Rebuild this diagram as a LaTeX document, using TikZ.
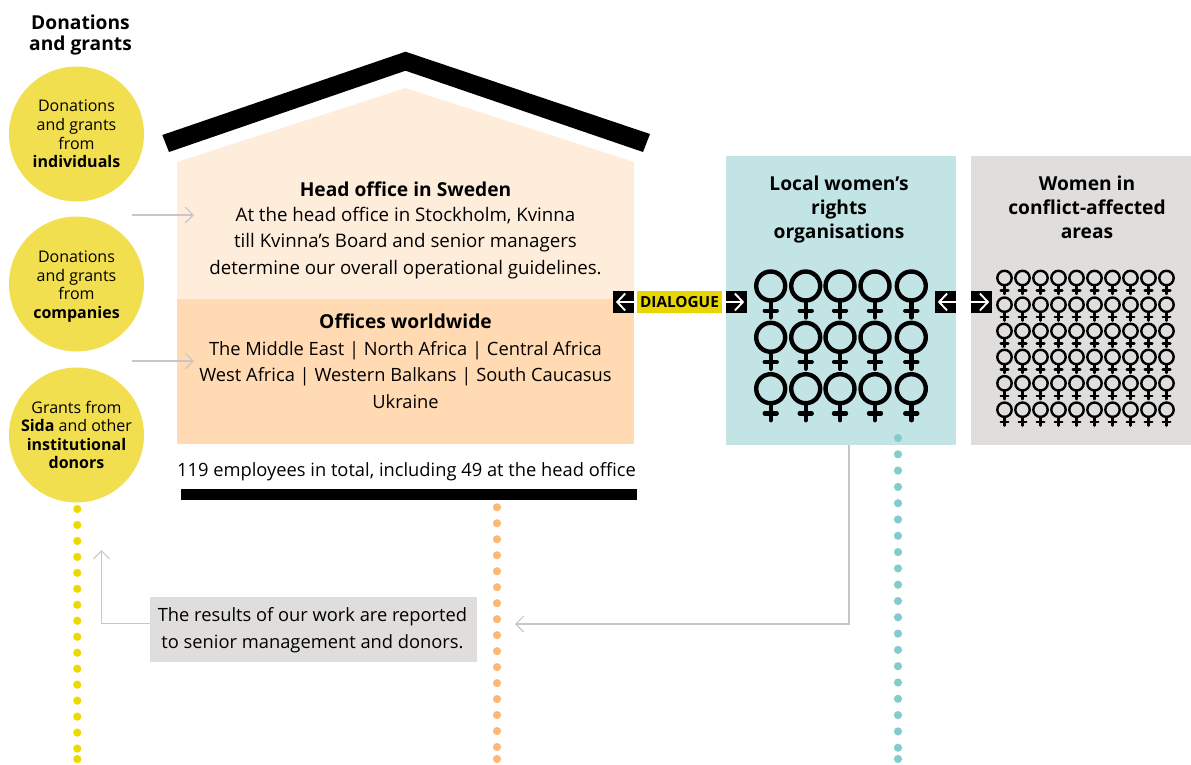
\documentclass[tikz,border=0pt]{standalone}
\usepackage{fontspec}
\setmainfont{Open Sans}
\usetikzlibrary{arrows.meta,positioning,calc}
\definecolor{ylw}{HTML}{F2DF4F}
\definecolor{dotY}{HTML}{EDD900}
\definecolor{dotO}{HTML}{FDB777}
\definecolor{dotT}{HTML}{84CBCD}
\definecolor{peachL}{HTML}{FFEDDC}
\definecolor{peachD}{HTML}{FFDAB3}
\definecolor{teal}{HTML}{C2E4E5}
\definecolor{greyb}{HTML}{DFDEDC}
\definecolor{linegrey}{HTML}{C8C6C6}
\definecolor{dlg}{HTML}{E8D600}
\tikzset{
 x=1pt,y=-1pt,
 donor/.style={circle,fill=ylw,minimum size=135pt,inner sep=0pt,align=center,font=\fontsize{16}{18.6}\selectfont},
 bodytxt/.style={align=center,font=\fontsize{18.7}{26.7}\selectfont,inner sep=0pt},
 bodysmall/.style={align=center,font=\fontsize{18.3}{26.7}\selectfont,inner sep=0pt},
 headtxt/.style={align=center,font=\fontsize{19.2}{24}\selectfont\bfseries,inner sep=0pt},
 thin arrow/.style={draw=linegrey,line width=1.2pt,-{Straight Barb[length=8pt,width=16pt,line width=1.2pt]}},
 dotted line/.style={line width=8.2pt,line cap=round,dash pattern=on 0pt off #1},
 arrowbox/.style={fill=black,minimum width=21pt,minimum height=21.4pt,inner sep=0pt},
 white arrow/.style={draw=white,line width=1.9pt,shorten >=3pt,-{Straight Barb[length=8pt,width=17pt,line width=1.9pt]}},
 pics/venus/.style n args={4}{code={
  \draw[line width=#2pt] (0,0) circle[radius=#1];
  \draw[line width=#2pt,line cap=round] (0,#1) -- (0,#1+#3) (-#4,#1+#3*0.6) -- (#4,#1+#3*0.6);
 }},
}
\begin{document}
\begin{tikzpicture}
\useasboundingbox (0,0) rectangle (1191,764);
% dotted lines
\coordinate (dy1) at (77.3,509); \coordinate (dy2) at (77.3,759);
\coordinate (do1) at (497,507.3); \coordinate (do2) at (497,759);
\coordinate (dt1) at (898,438); \coordinate (dt2) at (898,759);
% boxes
\fill[peachL] (177,299) -- (177,162) -- (405.5,88) -- (634,162) -- (634,299) -- cycle;
\fill[peachD] (177,299) rectangle (634,444);
\node[fill=teal,minimum width=230pt,minimum height=289pt,inner sep=0pt,anchor=north west] (teal) at (726,156) {};
\node[fill=greyb,minimum width=220pt,minimum height=289pt,inner sep=0pt,anchor=north west] (grey) at (971,156) {};
\draw[dotted line=15.97pt,dotY] (dy1) -- (dy2); \fill[dotY] (dy2) circle[radius=4.1];
\draw[dotted line=15.98pt,dotO] (do1) -- (do2); \fill[dotO] (do2) circle[radius=4.1];
\draw[dotted line=16.3pt,dotT] (dt1) -- (dt2); \fill[dotT] (dt2) circle[radius=4.1];
% roof
\fill (162.3,135) -- (405.5,51.7) -- (650,134) -- (643,152) -- (405.5,70.7) -- (169,152) -- cycle;
\fill (181,488.5) rectangle (637,499.5);
% donors
\node[font=\fontsize{19.2}{21}\selectfont\bfseries,align=center,inner sep=0pt] (dtitle) at (80.5,35.5) {Donations\\and grants};
\node[donor] (d1) at (76.5,134) {Donations\\and grants\\from\\\textbf{individuals}};
\node[donor] (d2) at (76.5,284) {};
\node[align=center,inner sep=0pt,font=\fontsize{16}{18.6}\selectfont] (d2t) at (76.5,286.5) {Donations\\and grants\\from\\\textbf{companies}};
\node[donor] (d3) at (76.5,435) {Grants from\\\textbf{Sida} and other\\\textbf{institutional}\\\textbf{donors}};
% house text
\node[headtxt] (h1) at (405.5,189) {Head office in Sweden};
\node[bodytxt] (h2) at (405.5,243) {At the head office in Stockholm, Kvinna\\till Kvinna’s Board and senior managers\\determine our overall operational guidelines.};
\node[headtxt] (o1) at (405.5,321) {Offices worldwide};
\node[bodysmall] (o2) at (405.5,375) {The Middle East | North Africa | Central Africa\\West Africa | Western Balkans | South Caucasus\\Ukraine};
\node[bodysmall] (emp) at (406.5,472) {119 employees in total, including 49 at the head office};
% thin arrows
\coordinate (a1) at (132,215); \coordinate (a1e) at (194,215);
\coordinate (a2) at (132,361); \coordinate (a2e) at (194,361);
\draw[thin arrow] (a1) -- (a1e);
\draw[thin arrow] (a2) -- (a2e);
% results
\node[fill=greyb,minimum width=327pt,minimum height=65pt,inner sep=0pt] (res) at (313.5,629) {};
\node[bodysmall] (rest) at (312.5,630.5) {The results of our work are reported\\to senior management and donors.};
\coordinate (up) at (101.5,550);
\coordinate (left) at (515,624);
\draw[thin arrow] (res.west |- 0,623.5) -- (101.5,623.5) -- (up);
\draw[thin arrow] (teal.south -| 849,0) -- (849,624) -- (left);
% dialogue
\node[fill=dlg,minimum width=85pt,minimum height=22.3pt,inner sep=0pt,font=\fontsize{15.3}{15}\selectfont\bfseries] (dlg) at (679.5,302) {\raisebox{-1pt}{DIALOGUE}};
\node[arrowbox] (b1) at (623.6,302) {};
\node[arrowbox] (b2) at (736.5,302) {};
\node[arrowbox] (b3) at (945.5,302) {};
\node[arrowbox] (b4) at (981.5,302) {};
\draw[white arrow] (b1.east) -- (b1.west);
\draw[white arrow] (b2.west) -- (b2.east);
\draw[white arrow] (b3.east) -- (b3.west);
\draw[white arrow] (b4.west) -- (b4.east);
% titles
\node[headtxt] (t1) at (839,209.5) {Local women’s\\rights\\organisations};
\node[headtxt] (t2) at (1087,207) {Women in\\conflict-affected\\areas};
% venus
\foreach \vx in {770.7,805.7,840,875,911.3}
 \foreach \vy in {286,337.3,388.7}
  \pic at (\vx,\vy) {venus={14.5}{4.4}{17}{6}};
\foreach \i in {0,...,9}
 \foreach \vy in {278,304.7,331,357,383.3,409.7}
  \pic at ({1004.5+\i*18},\vy) {venus={7.2}{2.4}{8.7}{3.8}};
\end{tikzpicture}
\end{document}
